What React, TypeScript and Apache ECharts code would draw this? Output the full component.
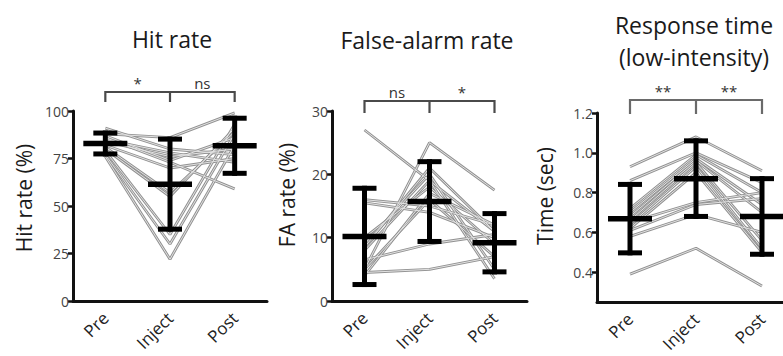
import React, { useEffect, useRef } from 'react';
import * as echarts from 'echarts';

// Session labels shared by all three panels
const conditions = ['Pre', 'Inject', 'Post'];

// Hit rate (%) per animal: [Pre, Inject, Post]
const hitRate = [
  [88, 86, 99],
  [91, 80, 77],
  [86, 73, 59],
  [85, 78, 73],
  [84, 76, 80],
  [87, 74, 86],
  [82, 70, 75],
  [81, 57, 89],
  [80, 55, 91],
  [79, 35, 93],
  [77, 30, 88],
  [76, 22, 82],
];
const hitMean = [82.9, 61.5, 81.7];
const hitSd = [5.5, 23.7, 14.5];
const hitSig = ['*', 'ns'];

// False-alarm rate (%) per animal
const faRate = [
  [27, 19, 3.5],
  [5, 25, 17.5],
  [16, 15, 12],
  [15.5, 14, 10],
  [4.5, 5, 7],
  [6.5, 9, 10.5],
  [8, 19, 11],
  [9, 20, 5],
  [10, 18, 9],
  [5, 16, 7],
  [4, 17, 12],
  [8.5, 21, 11],
];
const faMean = [10.2, 15.7, 9.2];
const faSd = [7.6, 6.3, 4.6];
const faSig = ['ns', '*'];

// Response time (sec), low-intensity stimuli
const rtLow = [
  [0.39, 0.52, 0.33],
  [0.93, 1.08, 0.91],
  [0.86, 1.0, 0.85],
  [0.72, 0.99, 0.8],
  [0.7, 0.97, 0.74],
  [0.68, 0.96, 0.7],
  [0.66, 0.95, 0.56],
  [0.64, 0.93, 0.52],
  [0.62, 0.9, 0.5],
  [0.65, 0.75, 0.8],
  [0.58, 0.69, 0.6],
  [0.61, 0.74, 0.77],
];
const rtMean = [0.669, 0.87, 0.68];
const rtSd = [0.172, 0.19, 0.19];
const rtSig = ['**', '**'];

// Y-axis tick values
const hitTicks = [0, 25, 50, 75, 100];
const faTicks = [0, 10, 20, 30];
const rtTicks = [0.4, 0.6, 0.8, 1.0, 1.2];

const FONT = '"Open Sans", "Noto Sans", sans-serif';

interface Panel {
  title: string[];
  titleX: number;
  titleY: number[];
  yName: string;
  yNameX: number;
  yNameY: number;
  grid: { left: number; top: number; width: number; height: number };
  yMin: number;
  yMax: number;
  ticks: number[];
  decimals: number;
  rows: number[][];
  mean: number[];
  sd: number[];
  sig: string[];
  bracketY: number;
  bracketDrop: number;
  bracketColor: string;
}

const panels: Panel[] = [
  {
    title: ['Hit rate'],
    titleX: 172,
    titleY: [39],
    yName: 'Hit rate (%)',
    yNameX: 24,
    yNameY: 198,
    grid: { left: 73, top: 111, width: 194, height: 190 },
    yMin: 0,
    yMax: 100,
    ticks: hitTicks,
    decimals: 0,
    rows: hitRate,
    mean: hitMean,
    sd: hitSd,
    sig: hitSig,
    bracketY: 92,
    bracketDrop: 10,
    bracketColor: '#4a4a4a',
  },
  {
    title: ['False-alarm rate'],
    titleX: 427,
    titleY: [40],
    yName: 'FA rate (%)',
    yNameX: 287,
    yNameY: 195,
    grid: { left: 332, top: 111, width: 195, height: 190 },
    yMin: 0,
    yMax: 30,
    ticks: faTicks,
    decimals: 0,
    rows: faRate,
    mean: faMean,
    sd: faSd,
    sig: faSig,
    bracketY: 101,
    bracketDrop: 12,
    bracketColor: '#4a4a4a',
  },
  {
    title: ['Response time', '(low-intensity)'],
    titleX: 694,
    titleY: [25, 57],
    yName: 'Time (sec)',
    yNameX: 545,
    yNameY: 196,
    grid: { left: 597, top: 113, width: 198, height: 189 },
    yMin: 0.25,
    yMax: 1.2,
    ticks: rtTicks,
    decimals: 1,
    rows: rtLow,
    mean: rtMean,
    sd: rtSd,
    sig: rtSig,
    bracketY: 100,
    bracketDrop: 14,
    bracketColor: '#6a6a6a',
  },
];

function buildOption(): any {
  const grid: any[] = [];
  const xAxis: any[] = [];
  const yAxis: any[] = [];
  const series: any[] = [];
  const graphic: any[] = [];

  panels.forEach((p, k) => {
    grid.push({ ...p.grid, outerBoundsMode: 'none', containLabel: false });

    xAxis.push({
      type: 'category',
      gridIndex: k,
      data: conditions,
      boundaryGap: true,
      axisLine: { lineStyle: { color: '#111', width: 3 } },
      axisTick: { alignWithLabel: true, length: 5, lineStyle: { color: '#111', width: 2.5 } },
      axisLabel: {
        rotate: 45,
        margin: 14,
        fontSize: 17,
        color: '#222',
        fontFamily: FONT,
        interval: 0,
      },
      splitLine: { show: false },
    });

    yAxis.push({
      type: 'value',
      gridIndex: k,
      min: p.yMin,
      max: p.yMax,
      axisLine: { show: true, lineStyle: { color: '#111', width: 3 } },
      axisTick: {
        show: true,
        length: 5,
        lineStyle: { color: '#111', width: 2.5 },
        customValues: p.ticks,
      },
      axisLabel: {
        fontSize: 14,
        color: '#444',
        margin: 4,
        fontFamily: FONT,
        customValues: p.ticks,
        formatter: (v: number) => v.toFixed(p.decimals),
      },
      splitLine: { show: false },
    });

    // individual animals: light grey lines with a darker rim
    p.rows.forEach((row) => {
      series.push({
        type: 'line',
        xAxisIndex: k,
        yAxisIndex: k,
        data: row,
        symbol: 'none',
        silent: true,
        z: 2,
        lineStyle: { color: '#929292', width: 2.8 },
      });
    });
    p.rows.forEach((row) => {
      series.push({
        type: 'line',
        xAxisIndex: k,
        yAxisIndex: k,
        data: row,
        symbol: 'none',
        silent: true,
        z: 3,
        lineStyle: { color: '#e2e2e2', width: 1 },
      });
    });

    // mean ± SD
    series.push({
      type: 'custom',
      xAxisIndex: k,
      yAxisIndex: k,
      z: 10,
      silent: true,
      clip: false,
      encode: { x: 0, y: 1 },
      data: conditions.map((_, i) => [i, p.mean[i], p.sd[i]]),
      renderItem: (params: any, api: any) => {
        const i = api.value(0);
        const m = api.value(1);
        const s = api.value(2);
        const c = api.coord([i, m]);
        const hi = api.coord([i, m + s]);
        const lo = api.coord([i, m - s]);
        const st = { stroke: '#000', lineWidth: 5, lineCap: 'butt' };
        const capHalf = 12;
        const meanHalf = 22;
        return {
          type: 'group',
          children: [
            { type: 'line', shape: { x1: c[0], y1: hi[1] - 2.5, x2: c[0], y2: lo[1] + 2.5 }, style: st },
            { type: 'line', shape: { x1: c[0] - capHalf, y1: hi[1], x2: c[0] + capHalf, y2: hi[1] }, style: st },
            { type: 'line', shape: { x1: c[0] - capHalf, y1: lo[1], x2: c[0] + capHalf, y2: lo[1] }, style: st },
            { type: 'line', shape: { x1: c[0] - meanHalf, y1: c[1], x2: c[0] + meanHalf, y2: c[1] }, style: { ...st, lineWidth: 5.5 } },
          ],
        };
      },
    });

    // significance bracket above the plot
    series.push({
      type: 'custom',
      xAxisIndex: k,
      yAxisIndex: k,
      z: 10,
      silent: true,
      clip: false,
      encode: { x: 0, y: 1 },
      data: [[0, p.yMin]],
      renderItem: (params: any, api: any) => {
        const xs = [0, 1, 2].map((i) => api.coord([i, p.yMin])[0]);
        const top = p.bracketY;
        const bottom = top + p.bracketDrop;
        const st = { stroke: p.bracketColor, lineWidth: 2.2, fill: 'none' };
        return {
          type: 'group',
          children: [
            {
              type: 'polyline',
              shape: { points: [[xs[0], bottom], [xs[0], top], [xs[2], top], [xs[2], bottom]] },
              style: st,
            },
            { type: 'line', shape: { x1: xs[1], y1: top, x2: xs[1], y2: bottom }, style: st },
            ...p.sig.map((t, j) => ({
              type: 'text',
              style: {
                text: t,
                x: (xs[j] + xs[j + 1]) / 2,
                y: top - 9,
                align: 'center',
                verticalAlign: 'middle',
                fontSize: 15,
                fontFamily: FONT,
                fill: '#333',
              },
            })),
          ],
        };
      },
    });

    // panel title
    p.title.forEach((t, j) => {
      graphic.push({
        type: 'text',
        x: p.titleX,
        y: p.titleY[j],
        style: {
          text: t,
          align: 'center',
          verticalAlign: 'middle',
          fontSize: 23,
          fontFamily: FONT,
          fill: '#1a1a1a',
        },
      });
    });

    // y-axis title
    graphic.push({
      type: 'text',
      x: p.yNameX,
      y: p.yNameY,
      rotation: Math.PI / 2,
      style: {
        text: p.yName,
        align: 'center',
        verticalAlign: 'middle',
        fontSize: 21,
        fontFamily: FONT,
        fill: '#1a1a1a',
      },
    });
  });

  return {
    animation: false,
    backgroundColor: '#ffffff',
    textStyle: { fontFamily: FONT },
    grid,
    xAxis,
    yAxis,
    series,
    graphic,
  };
}

export default function App() {
  const ref = useRef<HTMLDivElement>(null);

  useEffect(() => {
    if (!ref.current) return;
    const chart = echarts.init(ref.current, undefined, { renderer: 'svg' });
    chart.setOption(buildOption());
    return () => chart.dispose();
  }, []);

  return (
    <div
      ref={ref}
      style={{ position: 'absolute', left: 0, top: 0, width: 783, height: 356, background: '#fff' }}
    />
  );
}
